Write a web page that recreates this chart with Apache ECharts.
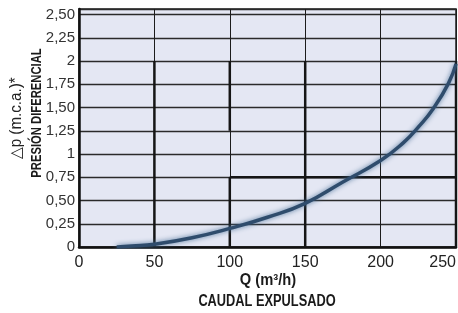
<!DOCTYPE html>
<html>
<head>
<meta charset="utf-8">
<script src="https://cdn.jsdelivr.net/npm/echarts@6/dist/echarts.min.js"></script>
<style>
  html, body { margin: 0; padding: 0; background: #fff; }
  #chart { width: 458px; height: 313px; }
</style>
</head>
<body>
<div id="chart"></div>
<script>
// caudal (m3/h) y presion diferencial (m.c.a.)
const caudal = [25, 35, 50, 75, 100, 125, 150, 175, 200, 215, 225, 235, 245, 250]
const presion = [0, 0.01, 0.03, 0.1, 0.2, 0.32, 0.47, 0.7, 0.93, 1.12, 1.29, 1.49, 1.76, 1.97]

// etiquetas del eje vertical, cada 0,25
const yTickLabels = ['0', '0,25', '0,50', '0,75', '1', '1,25', '1,50', '1,75', '2', '2,25', '2,50']

// tramos gruesos de la cuadricula [[q1, p1], [q2, p2]]
const thickSegments = [
  [[50, 0], [50, 2]],
  [[100, 1.25], [100, 2]],
  [[100, 0], [100, 0.75]],
  [[150, 0], [150, 2]],
  [[250, 0], [250, 2]],
  [[100, 0.75], [250, 0.75]]
]

const font = "'Liberation Sans Narrow', 'Liberation Sans', sans-serif"
const chart = echarts.init(document.getElementById('chart'))

const segmentSeries = thickSegments.map(seg => ({
  type: 'line',
  data: seg,
  silent: true,
  symbol: 'none',
  z: 3,
  lineStyle: { color: '#151515', width: 2.5 }
}))

chart.setOption({
  animation: false,
  grid: {
    left: 79,
    right: 2,
    top: 9,
    bottom: 66,
    outerBoundsMode: 'none',
    show: true,
    backgroundColor: '#e4e7f3',
    borderColor: '#1c1c1c',
    borderWidth: 1.5
  },
  xAxis: {
    type: 'value',
    min: 0,
    max: 250,
    interval: 50,
    axisLine: { lineStyle: { color: '#111', width: 2.5 } },
    axisTick: { show: false },
    axisLabel: { color: '#222', fontFamily: font, fontSize: 16, margin: 8, alignMaxLabel: 'right' },
    splitLine: { lineStyle: { color: '#1c1c1c', width: 1 } }
  },
  yAxis: {
    type: 'value',
    min: 0,
    max: 2.56,
    interval: 0.25,
    axisLine: { show: true, lineStyle: { color: '#111', width: 2.5 } },
    axisTick: { show: false },
    axisLabel: {
      color: '#333',
      fontFamily: font,
      fontSize: 15,
      margin: 4,
      formatter: v => {
        const i = Math.round(v / 0.25)
        return Math.abs(v - i * 0.25) < 1e-6 ? yTickLabels[i] : ''
      }
    },
    splitLine: { lineStyle: { color: '#2a2a2a', width: 1.3 } }
  },
  graphic: [
    {
      type: 'text', x: 17, y: 118, rotation: Math.PI / 2, scaleX: 0.95, z: 10,
      style: { text: '△p (m.c.a.)*', font: '16px ' + font, fill: '#222', align: 'center', verticalAlign: 'middle' }
    },
    {
      type: 'text', x: 37, y: 113, rotation: Math.PI / 2, scaleX: 0.75, z: 10,
      style: { text: 'PRESIÓN DIFERENCIAL', font: 'bold 15px ' + font, fill: '#1a1a1a', align: 'center', verticalAlign: 'middle' }
    },
    {
      type: 'text', x: 268, y: 281, scaleX: 0.92, z: 10,
      style: { text: 'Q (m³/h)', font: 'bold 16px ' + font, fill: '#1a1a1a', align: 'center', verticalAlign: 'middle' }
    },
    {
      type: 'text', x: 267, y: 302, scaleX: 0.8, z: 10,
      style: { text: 'CAUDAL EXPULSADO', font: 'bold 16px ' + font, fill: '#1a1a1a', align: 'center', verticalAlign: 'middle' }
    }
  ],
  series: segmentSeries.concat([
    {
      type: 'line',
      data: caudal.map((q, i) => [q, presion[i]]),
      smooth: true,
      symbol: 'none',
      z: 5,
      lineStyle: {
        color: '#2f4c6c',
        width: 3.5,
        shadowBlur: 5,
        shadowColor: 'rgba(70,110,150,0.9)'
      }
    }
  ])
})
</script>
</body>
</html>
